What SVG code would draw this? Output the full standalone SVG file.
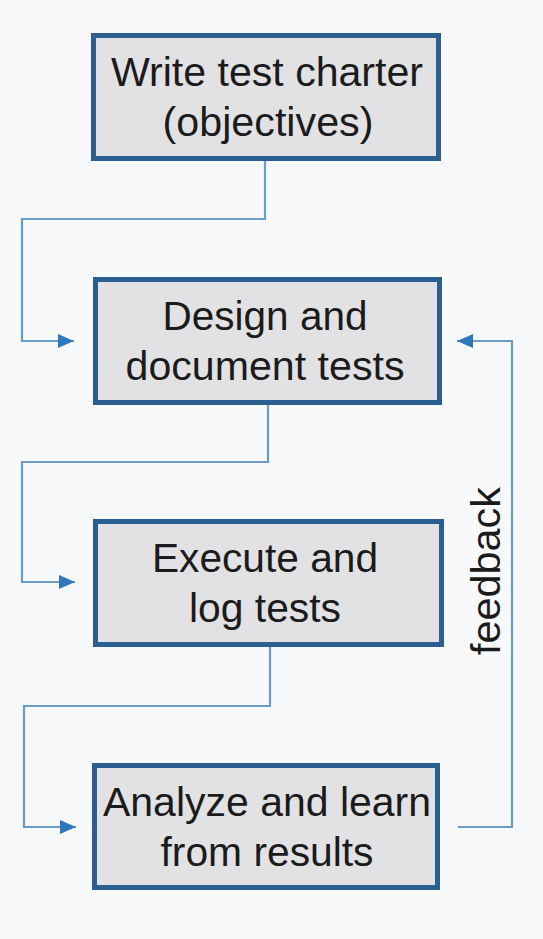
<svg xmlns="http://www.w3.org/2000/svg" width="543" height="939" viewBox="0 0 543 939">
<defs>
<style>
.box{fill:#e2e2e4;stroke:#2b5f92;stroke-width:5}
.lbl{font-family:"Liberation Sans",Arial,sans-serif;font-size:40px;fill:#1b1b1b;text-anchor:middle}
.conn{fill:none;stroke:#6b9dca;stroke-width:2.2}
</style>
<marker id="arr" viewBox="0 0 16 14" refX="16" refY="7" markerWidth="16" markerHeight="14" markerUnits="userSpaceOnUse" orient="auto">
<path d="M0,0 L16,7 L0,14 Z" fill="#2f78c0"/>
</marker>
</defs>
<rect width="543" height="939" fill="#f8f9fa"/>
<g id="connectors">
<path class="conn" d="M265,161 V219 H22 V341 H74" marker-end="url(#arr)"/>
<path class="conn" d="M268,405 V462 H22 V582 H75" marker-end="url(#arr)"/>
<path class="conn" d="M270,647 V706 H24 V827 H76" marker-end="url(#arr)"/>
<path class="conn" d="M458,827 H512 V341 H457" marker-end="url(#arr)"/>
<text class="lbl" transform="translate(500,571) rotate(-90)" textLength="168" lengthAdjust="spacingAndGlyphs">feedback</text>
</g>
<g id="node1">
<rect class="box" x="93.5" y="35.5" width="345" height="123"/>
<text class="lbl" x="267" y="86" textLength="312" lengthAdjust="spacingAndGlyphs">Write test charter</text>
<text class="lbl" x="268" y="136" textLength="211" lengthAdjust="spacingAndGlyphs">(objectives)</text>
</g>
<g id="node2">
<rect class="box" x="95.5" y="279.5" width="344" height="123"/>
<text class="lbl" x="265" y="330" textLength="205" lengthAdjust="spacingAndGlyphs">Design and</text>
<text class="lbl" x="265" y="380" textLength="279" lengthAdjust="spacingAndGlyphs">document tests</text>
</g>
<g id="node3">
<rect class="box" x="95.5" y="521.5" width="346" height="123"/>
<text class="lbl" x="265" y="572" textLength="226" lengthAdjust="spacingAndGlyphs">Execute and</text>
<text class="lbl" x="265" y="622" textLength="152" lengthAdjust="spacingAndGlyphs">log tests</text>
</g>
<g id="node4">
<rect class="box" x="94.5" y="765.5" width="343" height="122"/>
<text class="lbl" x="267" y="816" textLength="328" lengthAdjust="spacingAndGlyphs">Analyze and learn</text>
<text class="lbl" x="267" y="866" textLength="213" lengthAdjust="spacingAndGlyphs">from results</text>
</g>
</svg>
